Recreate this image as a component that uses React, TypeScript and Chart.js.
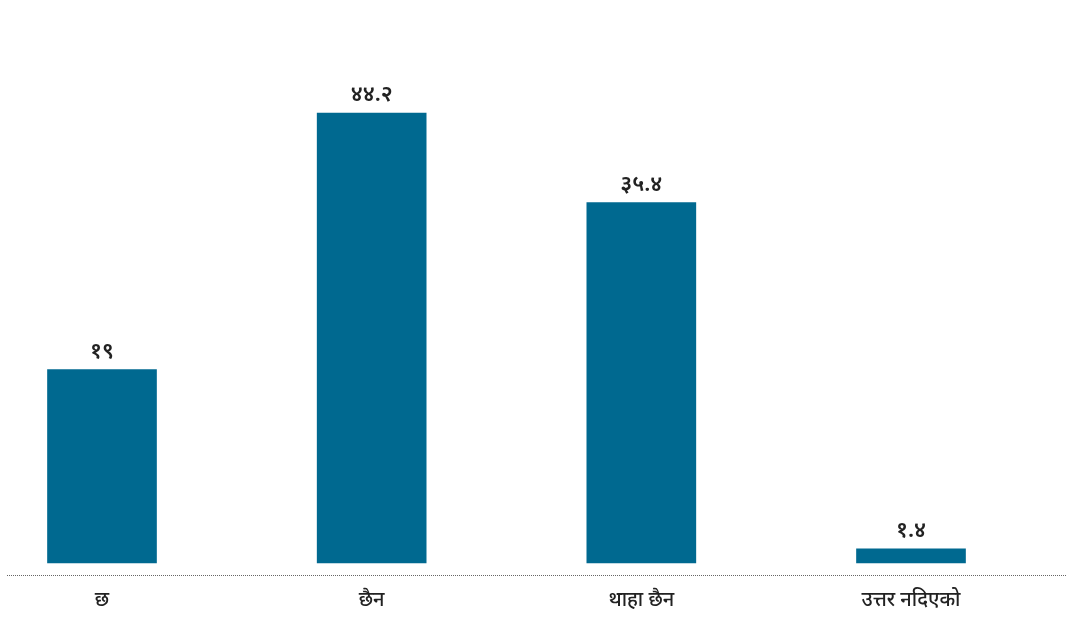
import React, { useEffect, useRef } from "react";
import { Chart, registerables } from "chart.js";

Chart.register(...registerables);

const categories = ["छ", "छैन", "थाहा छैन", "उत्तर नदिएको"];
const values = [19, 44.2, 35.4, 1.4];
const valueLabels = ["१९", "४४.२", "३५.४", "१.४"];

const BAR_COLOR = "#006990";
const FONT = "'Noto Sans', 'Noto Sans Devanagari', sans-serif";

const overlayPlugin = {
  id: "overlay",
  afterDatasetsDraw(chart: any) {
    const ctx = chart.ctx;
    const meta = chart.getDatasetMeta(0);
    ctx.save();
    ctx.fillStyle = "#222";
    ctx.font = `600 22px ${FONT}`;
    ctx.textAlign = "center";
    ctx.textBaseline = "alphabetic";
    meta.data.forEach((bar: any, i: number) => {
      ctx.fillText(valueLabels[i], bar.x, bar.y - 12);
    });
    ctx.restore();
  },
  afterDraw(chart: any) {
    const ctx = chart.ctx;
    const y = chart.scales.y.getPixelForValue(0) + 12;
    ctx.save();
    ctx.strokeStyle = "#666";
    ctx.lineWidth = 1;
    ctx.setLineDash([1, 1]);
    ctx.beginPath();
    ctx.moveTo(7, Math.round(y) + 0.5);
    ctx.lineTo(chart.width, Math.round(y) + 0.5);
    ctx.stroke();
    ctx.restore();
  },
};

export default function App() {
  const ref = useRef<HTMLCanvasElement | null>(null);
  useEffect(() => {
    if (!ref.current) return;
    const chart = new Chart(ref.current, {
      type: "bar",
      data: {
        labels: categories,
        datasets: [
          {
            data: values,
            backgroundColor: BAR_COLOR,
            barThickness: 109,
            clip: false as any,
          },
        ],
      },
      options: {
        animation: false,
        responsive: true,
        maintainAspectRatio: false,
        layout: { padding: { left: 102, right: 155, top: 54, bottom: 0 } },
        plugins: { legend: { display: false }, tooltip: { enabled: false } },
        scales: {
          x: {
            offset: false,
            grid: { display: false, drawTicks: false },
            border: { display: false },
            ticks: {
              color: "#222",
              padding: 25,
              font: { family: FONT, size: 20, weight: "500" as any },
              maxRotation: 0,
              autoSkip: false,
            },
          },
          y: {
            display: false,
            min: 0,
            max: 50,
          },
        },
      },
      plugins: [overlayPlugin],
    });
    return () => chart.destroy();
  }, []);
  return (
    <div style={{ position: "fixed", left: 0, top: 0, width: 1066, height: 637, background: "#fff" }}>
      <canvas ref={ref} />
    </div>
  );
}
